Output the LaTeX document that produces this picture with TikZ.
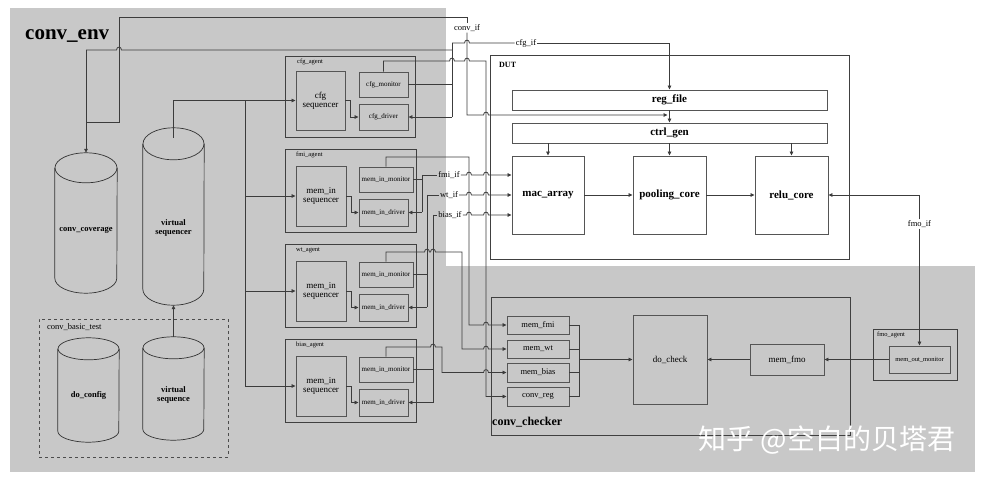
\documentclass[tikz,border=0pt]{standalone}
\usepackage{fontspec}
\setmainfont{Liberation Serif}
\newfontfamily\cjk{Noto Sans CJK SC}
\usetikzlibrary{arrows.meta,fit,calc}
\definecolor{bggray}{RGB}{200,200,200}
\definecolor{lc}{RGB}{60,60,60}
\definecolor{bc}{RGB}{85,85,85}
\newcommand\fsz[1]{\fontsize{#1}{#1}\selectfont}
\newcommand\hop[2]{-- (#1-2.5,#2) .. controls (#1-2.5,#2-3.8) and (#1+2.5,#2-3.8) .. (#1+2.5,#2)}
\newcommand\bx[7]{\node[#1, minimum width={(#5)-(#3)}, minimum height={(#6)-(#4)}] (#2) at ({((#3)+(#5))/2},{((#4)+(#6))/2}) {#7};}
\newcommand\cyl[3]{%
 \draw[cylst] ($(#1.north west)+(0,#3)$) -- ($(#1.south west)+(0,-#3)$) arc[start angle=180,end angle=360,x radius=#2pt,y radius=#3pt] -- ($(#1.north east)+(0,#3)$);
 \draw[cylst] ($(#1.north)+(0,#3)$) ellipse [x radius=#2pt,y radius=#3pt];}
\tikzset{
 ln/.style={draw=lc, line width=0.8pt},
 arr/.style={ln, -{Triangle[length=4pt,width=3.6pt]}},
 agent/.style={draw=black!75, fill=bggray, line width=0.9pt, inner sep=0pt},
 sub/.style={draw=bc, fill=bggray, line width=0.9pt, inner sep=0pt, align=center},
 dutbox/.style={draw=bc, fill=white, line width=0.9pt, inner sep=0pt, align=center, font=\fsz{11}\bfseries},
 cylnode/.style={inner sep=0pt},
 cyltext/.style={align=center, font=\fsz{8.5}\bfseries, inner sep=0pt},
 cylst/.style={draw=black!80, line width=0.7pt},
 alabel/.style={anchor=west, font=\fsz{6.5}, inner sep=0pt},
 iflbl/.style={font=\fsz{8.5}, inner sep=1pt},
}
\newcommand\memagent[3]{%
 \bx{agent}{#1ag}{285}{#2}{416}{#2+83}{}
 \node[alabel] (#1agl) at (296,#2+6) {#3};
 \bx{sub,font=\fsz{9}}{#1seq}{296}{#2+17}{346}{#2+77}{mem\_in\\sequencer}
 \bx{sub,font=\fsz{7}}{#1mon}{359}{#2+18}{413}{#2+43}{mem\_in\_monitor}
 \bx{sub,font=\fsz{7}}{#1drv}{359}{#2+50}{408}{#2+77}{mem\_in\_driver}
 \draw[arr] (#1seq.east) -- ++(4.5,0) |- (#1drv.west);
 \draw[arr] (#1seq.west -| vbus) -- (#1seq.west);
}
\begin{document}
\begin{tikzpicture}[x=1pt,y=-1pt]
\useasboundingbox (0,0) rectangle (986,481);
\fill[white] (0,0) rectangle (986,481);
\fill[bggray] (10,8) rectangle (446,472);
\fill[bggray] (446,266) rectangle (975,472);
\coordinate (vbus) at (245,0);
\coordinate (bus) at (579,0);

\node[anchor=base west, font=\fsz{21}\bfseries, inner sep=0pt] (envlbl) at (25,40) {conv\_env};

% cylinders
\bx{cylnode}{cov}{55}{153}{117}{293}{}
\cyl{cov}{31}{15}
\node[cyltext] (covt) at (86,230) {conv\_coverage};
\bx{cylnode}{vsqr}{143}{128}{204}{305}{}
\cyl{vsqr}{30.5}{16}
\node[cyltext] (vsqrt) at (173.5,228) {virtual\\sequencer};
\node[draw=black!70, dashed, line width=0.8pt, fit={(39,319)(228,457)}, inner sep=0pt] (basic) {};
\node[anchor=west, font=\fsz{8.5}, inner sep=0pt] (basicl) at (47,327) {conv\_basic\_test};
\bx{cylnode}{docfg}{58}{338}{119}{442}{}
\cyl{docfg}{30.5}{11}
\node[cyltext] (docfgt) at (88.5,395) {do\_config};
\bx{cylnode}{vsq}{143}{337}{204}{440}{}
\cyl{vsq}{30.5}{11}
\node[cyltext] (vsqt) at (173.5,395) {virtual\\sequence};
\draw[arr] (vsq.north) -- (vsqr.south);

% cfg agent
\bx{agent}{cfgag}{285}{56}{415}{137}{}
\node[alabel] (cfgagl) at (297,62) {cfg\_agent};
\bx{sub,font=\fsz{9}}{cfgseq}{296}{71}{345}{130}{cfg\\sequencer}
\bx{sub,font=\fsz{7}}{cfgmon}{359}{72}{408}{97}{cfg\_monitor}
\bx{sub,font=\fsz{7}}{cfgdrv}{359}{104}{408}{130}{cfg\_driver}
\draw[arr] (cfgseq.east) -- ++(4.5,0) |- (cfgdrv.west);
\draw[arr] ($(vsqr.north)+(0,10)$) |- (cfgseq.west);

\memagent{fmi}{149}{fmi\_agent}
\memagent{wt}{244}{wt\_agent}
\memagent{bias}{339}{bias\_agent}
\draw[ln] (cfgseq.west -| vbus) -- (biasseq.west -| vbus);

% DUT
\bx{draw=black!75, fill=white, line width=0.9pt, inner sep=0pt}{dut}{490}{55}{849}{259}{}
\node[anchor=west, font=\fsz{8}\bfseries, inner sep=0pt] (dutl) at (499,65) {DUT};
\bx{dutbox}{regfile}{512}{90}{827}{110}{reg\_file}
\bx{dutbox}{ctrlgen}{512}{123}{827}{143}{ctrl\_gen}
\bx{dutbox}{mac}{512}{156}{584}{234}{mac\_array}
\bx{dutbox}{pool}{633}{156}{706}{234}{pooling\_core}
\bx{dutbox}{relu}{755}{156}{828}{234}{relu\_core}
\draw[arr] (regfile.south) -- (ctrlgen.north);
\draw[arr] (mac.north |- ctrlgen.south) -- (mac.north);
\draw[arr] (pool.north |- ctrlgen.south) -- (pool.north);
\draw[arr] (relu.north |- ctrlgen.south) -- (relu.north);
\draw[arr] (mac.east) -- (pool.west);
\draw[arr] (pool.east) -- (relu.west);
\coordinate (macin1) at ($(mac.west)+(0,-20)$);
\coordinate (macin3) at ($(mac.west)+(0,20)$);

% checker
\bx{agent}{chk}{491}{297}{850}{435}{}
\node[anchor=west, font=\fsz{12}\bfseries, inner sep=0pt] (chkl) at (492,422) {conv\_checker};
\bx{sub,font=\fsz{8.5}}{memfmi}{507}{316}{569}{334}{mem\_fmi}
\bx{sub,font=\fsz{8.5}}{memwt}{507}{340}{569}{358}{mem\_wt}
\bx{sub,font=\fsz{8.5}}{membias}{507}{363}{569}{382}{mem\_bias}
\bx{sub,font=\fsz{8.5}}{convreg}{507}{387}{569}{406}{conv\_reg}
\bx{sub,font=\fsz{9}}{docheck}{633}{315}{707}{404}{do\_check}
\bx{sub,font=\fsz{9}}{memfmo}{750}{344}{824}{375}{mem\_fmo}
\foreach \n in {memfmi,memwt,membias,convreg} \draw[ln] (\n.east) -- (\n.east -| bus);
\draw[ln] (memfmi.east -| bus) -- (convreg.east -| bus);
\draw[arr] (docheck.west -| bus) -- (docheck.west);
\draw[arr] (memfmo.west) -- (docheck.east);

% fmo agent
\bx{agent}{fmoag}{873}{329}{957}{380}{}
\node[alabel] (fmoagl) at (877,335) {fmo\_agent};
\bx{sub,font=\fsz{6.5}}{fmomon}{889}{346}{950}{373}{mem\_out\_monitor}
\draw[arr] (fmomon.west) -- (memfmo.east);
\node[iflbl] (fmoifl) at (919.5,224) {fmo\_if};
\draw[arr] (fmoifl.north) |- (relu.east);
\draw[arr] (fmoifl.south) -- (fmomon.north);

% coverage / conv_if / cfg_if
\coordinate (jc) at (86,122);
\draw[arr] (86,50) -- (cov.north);
\draw[ln] (86,50) \hop{119}{50} -- (452,50);
\node[iflbl] (convifl) at (467,28) {conv\_if};
\draw[ln] (jc) -- (119,122) -- (119,17) -- (467,17) -- (convifl.north);
\draw[arr] (convifl.south) -- (467,115) \hop{486}{115} -- (667.5,115);
\draw[ln] (cfgmon.east) -- (452,84.5);
\draw[ln] (452,43) -- (452,117);
\draw[arr] (452,117) -- (cfgdrv.east);
\node[iflbl] (cfgifl) at (526,43) {cfg\_if};
\draw[ln] (452,43) \hop{467}{43} -- (cfgifl.west);
\draw[arr] (cfgifl.east) -| (regfile.north);
\draw[arr] (cfgmon.north) -- (383.5,61) \hop{452}{61} \hop{467}{61} -- (486,61) -- (486,396.5) -- (convreg.west);

% fmi_if / wt_if / bias_if
\node[iflbl] (fmiifl) at (449,175) {fmi\_if};
\node[iflbl] (wtifl) at (449,195) {wt\_if};
\node[iflbl] (biasifl) at (450,215) {bias\_if};
\draw[ln] (fmimon.east) -- (422,179.5);
\draw[ln] (422,175) -- (422,212.5);
\draw[arr] (422,212.5) -- (fmidrv.east);
\draw[ln] (422,175) -- (fmiifl.west);
\draw[arr] (fmiifl.east) \hop{469}{175} \hop{486}{175} -- (macin1);
\draw[ln] (wtmon.east) -- (427,274.5);
\draw[ln] (427,195) -- (427,307.5);
\draw[arr] (427,307.5) -- (wtdrv.east);
\draw[ln] (427,195) -- (wtifl.west);
\draw[arr] (wtifl.east) \hop{469}{195} \hop{486}{195} -- (mac.west);
\draw[ln] (biasmon.east) -- (433,369.5);
\draw[ln] (433,215) -- (433,402.5);
\draw[arr] (433,402.5) -- (biasdrv.east);
\draw[ln] (433,215) -- (biasifl.west);
\draw[arr] (biasifl.east) \hop{469}{215} \hop{486}{215} -- (macin3);

% monitor outputs to checker
\draw[arr] (fmimon.north) -- (386,157) -- (469,157) -- (469,325) \hop{486}{325} -- (memfmi.west);
\draw[arr] (wtmon.north) -- (386,252) \hop{427}{252} \hop{433}{252} -- (462,252) -- (462,349) \hop{486}{349} -- (memwt.west);
\draw[arr] (biasmon.north) -- (386,347) \hop{433}{347} -- (442,347) -- (442,372.5) \hop{486}{372.5} -- (membias.west);

\node[font=\cjk\fsz{28}, text=white, inner sep=0pt] (wm) at (827,440) {知乎 @空白的贝塔君};
\end{tikzpicture}
\end{document}
